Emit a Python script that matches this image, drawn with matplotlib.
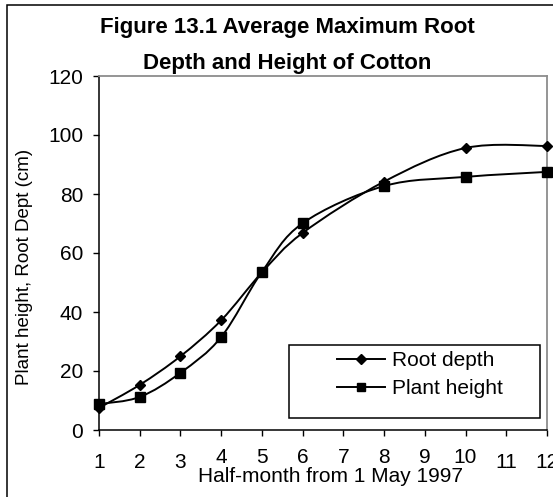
import matplotlib
matplotlib.use("Agg")
import matplotlib.pyplot as plt
from matplotlib.path import Path
from matplotlib.patches import PathPatch, Rectangle
from matplotlib.lines import Line2D
from matplotlib.transforms import ScaledTranslation

plt.rcParams['font.family'] = ['Liberation Sans', 'DejaVu Sans']

# Data
half_month = [1, 2, 3, 4, 5, 6, 8, 10, 12]
root_depth = [7.5, 15.3, 25.0, 37.2, 53.4, 66.8, 84.2, 95.6, 96.3]
plant_height = [8.8, 11.2, 19.4, 31.5, 53.6, 70.1, 82.7, 85.8, 87.5]
x_ticks = list(range(1, 13))
y_ticks = [0, 20, 40, 60, 80, 100, 120]
raised_ticks = [4, 5, 6, 7, 8, 9, 10]   # labels drawn a bit higher in the original


def smooth_path(xs, ys):
    # Excel-like smoothed line: Catmull-Rom segments as cubic Bezier
    pts = list(zip(xs, ys))
    n = len(pts)
    verts = [pts[0]]
    codes = [Path.MOVETO]
    for i in range(n - 1):
        p0 = pts[i - 1] if i > 0 else pts[i]
        p1 = pts[i]
        p2 = pts[i + 1]
        p3 = pts[i + 2] if i + 2 < n else pts[i + 1]
        c1 = (p1[0] + (p2[0] - p0[0]) / 6, p1[1] + (p2[1] - p0[1]) / 6)
        c2 = (p2[0] - (p3[0] - p1[0]) / 6, p2[1] - (p3[1] - p1[1]) / 6)
        verts += [c1, c2, p2]
        codes += [Path.CURVE4] * 3
    return Path(verts, codes)


fig = plt.figure(figsize=(5.53, 4.97), dpi=100)
ax = fig.add_axes([99 / 553, 1 - 430 / 497, 448 / 553, 354 / 497])

for ys in (root_depth, plant_height):
    ax.add_patch(PathPatch(smooth_path(half_month, ys), facecolor='none',
                           edgecolor='black', lw=1.4, clip_on=False, zorder=3))

ax.plot(half_month, root_depth, ls='none', marker='D', ms=5.5, color='black',
        clip_on=False, zorder=4)
ax.plot(half_month, plant_height, ls='none', marker='s', ms=6.5, color='black',
        clip_on=False, zorder=4)

ax.set_xlim(1, 12)
ax.set_ylim(0, 120)
ax.set_xticks(x_ticks)
ax.set_yticks(y_ticks)
ax.tick_params(axis='both', direction='out', length=4.5, width=1, labelsize=15)
ax.tick_params(axis='y', pad=7)
ax.tick_params(axis='x', pad=12)

shift = ScaledTranslation(0, 5 / 100, fig.dpi_scale_trans)
for val, tick in zip(x_ticks, ax.xaxis.get_major_ticks()):
    if val in raised_ticks:
        tick.label1.set_transform(tick.label1.get_transform() + shift)

for side in ('left', 'bottom'):
    ax.spines[side].set_color('black')
    ax.spines[side].set_linewidth(1.1)
for side in ('top', 'right'):
    ax.spines[side].set_color('#8c8c8c')
    ax.spines[side].set_linewidth(1.3)

ax.set_xlabel('Half-month from 1 May 1997', fontsize=15, va='center')
ax.xaxis.set_label_coords(0.516, -0.13)
ax.set_ylabel('Plant height, Root Dept (cm)', fontsize=13.5, va='center')
ax.yaxis.set_label_coords(-0.167, 0.46)

fig.text(287 / 553, 1 - 28 / 497, 'Figure 13.1 Average Maximum Root',
         ha='center', va='center', fontsize=16, fontweight='bold')
fig.text(287 / 553, 1 - 63.5 / 497, 'Depth and Height of Cotton',
         ha='center', va='center', fontsize=16, fontweight='bold')

# legend box
ax.add_patch(Rectangle((0.424, 0.034), 0.56, 0.206, transform=ax.transAxes,
                       facecolor='white', edgecolor='black', lw=1.1, zorder=5))
handles = [
    Line2D([], [], color='black', lw=1.4, marker='D', ms=5),
    Line2D([], [], color='black', lw=1.4, marker='s', ms=6),
]
leg = ax.legend(handles, ['Root depth', 'Plant height'], loc='upper left',
                bbox_to_anchor=(0.531, 0.223), frameon=False, fontsize=15,
                borderpad=0, borderaxespad=0, handlelength=2.3,
                handletextpad=0.35, labelspacing=0.45)
leg.set_zorder(6)

# outer chart border
fig.patches.append(Rectangle((7 / 553, -0.1), 1.2, 1.1 - 5 / 497,
                             transform=fig.transFigure, facecolor='none',
                             edgecolor='black', lw=1.1))

fig.savefig('out.png', dpi=100)
